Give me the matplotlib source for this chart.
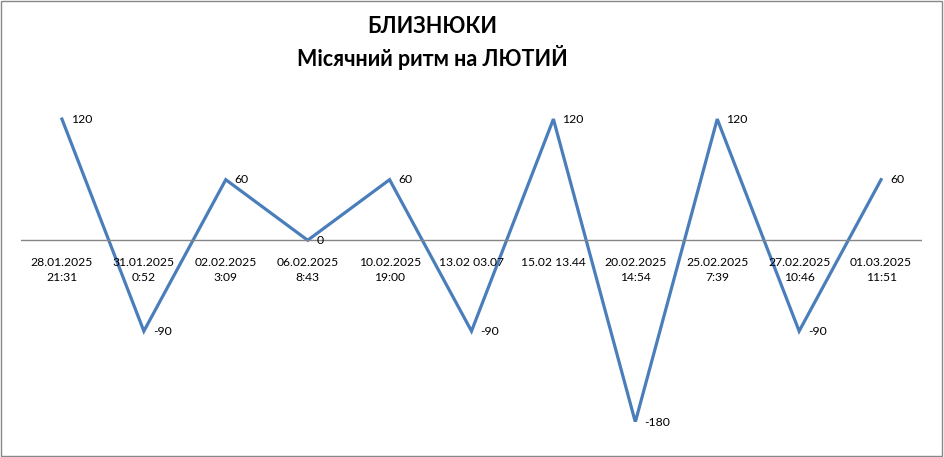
import matplotlib.pyplot as plt
from matplotlib.patches import Rectangle

dates = ['28.01.2025\n21:31', '31.01.2025\n0:52', '02.02.2025\n3:09', '06.02.2025\n8:43',
         '10.02.2025\n19:00', '13.02 03.07', '15.02 13.44', '20.02.2025\n14:54',
         '25.02.2025\n7:39', '27.02.2025\n10:46', '01.03.2025\n11:51']
values = [120, -90, 60, 0, 60, -90, 120, -180, 120, -90, 60]

plt.rcParams['font.family'] = ['Lato', 'DejaVu Sans']

fig = plt.figure(figsize=(9.44, 4.57), dpi=100)
ax = fig.add_axes([21 / 944, 35 / 457, 901 / 944, 363.5 / 457])
x = list(range(len(values)))
ax.plot(x, values, color='#4A7EBB', linewidth=2.3, solid_joinstyle='miter')
ax.axhline(0, color='#868686', linewidth=1)
ax.set_xlim(-0.5, len(values) - 0.5)
ax.set_ylim(-180, 180)
ax.axis('off')

for i, v in enumerate(values):
    ax.annotate(str(v), (i, v), xytext=(6.5, 0), textcoords='offset points',
                ha='left', va='center', fontsize=8.8, color='black')
    ax.annotate(dates[i], (i, 0), xytext=(0, -12), textcoords='offset points',
                ha='center', va='top', fontsize=8.7, color='black', linespacing=1.5)

fig.text(432 / 944, 1 - 43 / 457, 'БЛИЗНЮКИ\nМісячний ритм на ЛЮТИЙ', ha='center', va='center',
         fontsize=15.5, fontweight='bold', linespacing=1.35)
fig.patches.append(Rectangle((0.001, 0.002), 0.997, 0.995, transform=fig.transFigure,
                             fill=False, edgecolor='#888888', linewidth=1))

fig.savefig('out.png', dpi=100)
